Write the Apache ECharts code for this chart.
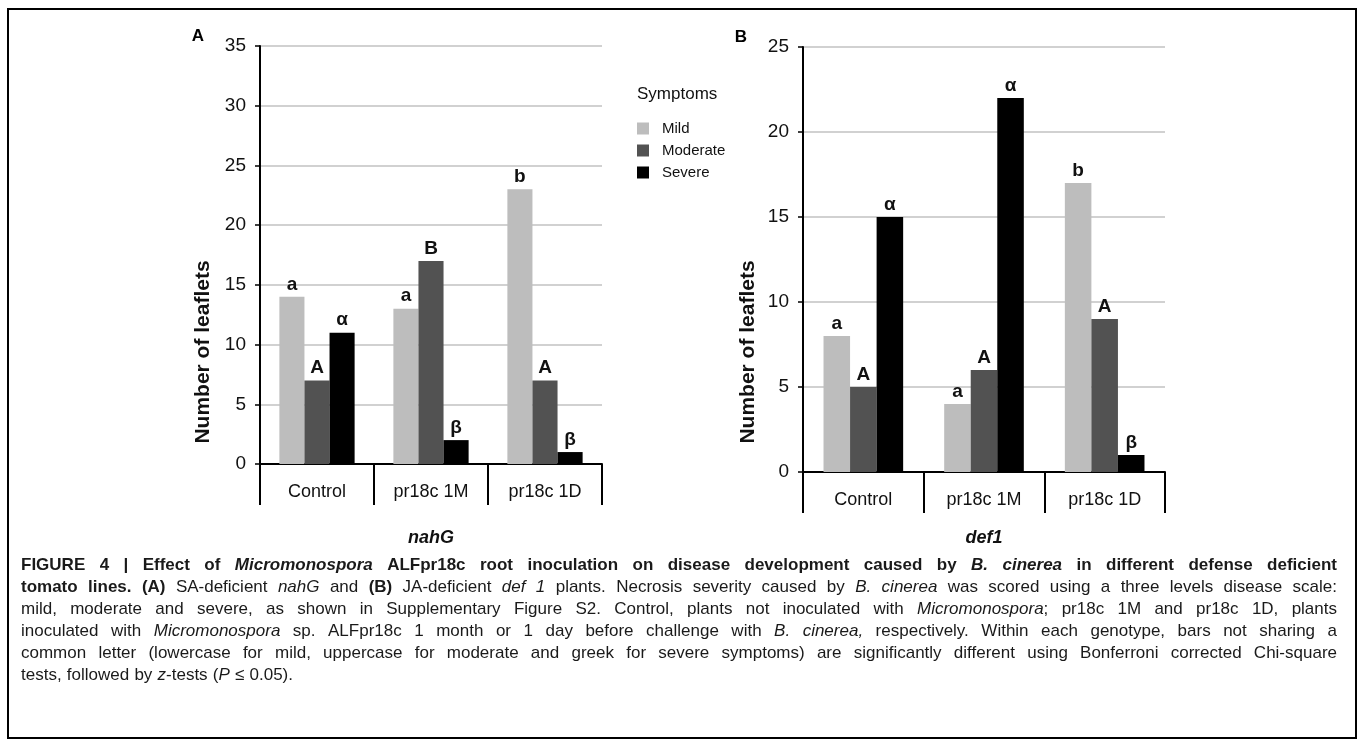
<!DOCTYPE html>
<html><head><meta charset="utf-8">
<script src="https://cdn.jsdelivr.net/npm/echarts@6/dist/echarts.min.js"></script>
<style>html,body{margin:0;padding:0;background:#fff}#c{width:1358px;height:742px}</style>
</head><body><div id="c"></div><script>
// ---------- data ----------
const categories = ['Control', 'pr18c 1M', 'pr18c 1D'];
const seriesNames = ['Mild', 'Moderate', 'Severe'];
const nahG_mild = [14, 13, 23];
const nahG_moderate = [7, 17, 7];
const nahG_severe = [11, 2, 1];
const def1_mild = [8, 4, 17];
const def1_moderate = [5, 6, 9];
const def1_severe = [15, 22, 1];
const nahG_letters_mild = ['a', 'a', 'b'];
const nahG_letters_moderate = ['A', 'B', 'A'];
const nahG_letters_severe = ['α', 'β', 'β'];
const def1_letters_mild = ['a', 'a', 'b'];
const def1_letters_moderate = ['A', 'A', 'A'];
const def1_letters_severe = ['α', 'α', 'β'];
const genotypes = ['nahG', 'def1'];
const yMaxA = 35, yMaxB = 25, yStep = 5;

const F = "'Liberation Sans', Arial, Helvetica, sans-serif";
const colors = ['#bdbdbd', '#525252', '#000000'];

function barSeries(name, data, letters, color, gi) {
  return {
    type: 'bar', name: name, xAxisIndex: gi, yAxisIndex: gi, data: data,
    barGap: '0%', barCategoryGap: '34%',
    itemStyle: { color: color },
    label: { show: true, position: 'top', distance: 3,
      formatter: function (p) { return letters[p.dataIndex]; },
      fontSize: 19, fontWeight: 'bold', color: '#111', fontFamily: F },
    emphasis: { disabled: true }
  };
}
function yAxis(gi, max) {
  return { type: 'value', gridIndex: gi, min: 0, max: max, interval: yStep,
    axisLine: { show: true, lineStyle: { color: '#000', width: 2 } },
    axisTick: { show: true, length: 5, lineStyle: { color: '#000', width: 1.5 } },
    axisLabel: { fontSize: 19, color: '#111', margin: 14, fontFamily: F },
    splitLine: { show: true, lineStyle: { color: '#c2c2c2', width: 1.5 } } };
}
function xAxis(gi, name, gap) {
  return { type: 'category', gridIndex: gi, data: categories,
    axisLine: { lineStyle: { color: '#000', width: 2 } },
    axisTick: { show: true, length: 41, lineStyle: { color: '#000', width: 2 } },
    axisLabel: { fontSize: 18, color: '#111', margin: 19, fontFamily: F },
    name: name, nameLocation: 'middle', nameGap: gap,
    nameTextStyle: { fontSize: 18, fontWeight: 'bold', fontStyle: 'italic', color: '#111', fontFamily: F } };
}

// ---------- caption (justified, word by word) ----------
const captionLines = [
  [['b', 'FIGURE 4 | Effect of '], ['bi', 'Micromonospora'], ['b', ' ALFpr18c root inoculation on disease development caused by '], ['bi', 'B. cinerea'], ['b', ' in different defense deficient']],
  [['b', 'tomato lines. (A)'], ['r', ' SA-deficient '], ['i', 'nahG'], ['r', ' and '], ['b', '(B)'], ['r', ' JA-deficient '], ['i', 'def 1'], ['r', ' plants. Necrosis severity caused by '], ['i', 'B. cinerea'], ['r', ' was scored using a three levels disease scale:']],
  [['r', 'mild, moderate and severe, as shown in Supplementary Figure S2. Control, plants not inoculated with '], ['i', 'Micromonospora'], ['r', '; pr18c 1M and pr18c 1D, plants']],
  [['r', 'inoculated with '], ['i', 'Micromonospora'], ['r', ' sp. ALFpr18c 1 month or 1 day before challenge with '], ['i', 'B. cinerea,'], ['r', ' respectively. Within each genotype, bars not sharing a']],
  [['r', 'common letter (lowercase for mild, uppercase for moderate and greek for severe symptoms) are significantly different using Bonferroni corrected Chi-square']],
  [['r', 'tests, followed by '], ['i', 'z'], ['r', '-tests ('], ['i', 'P'], ['r', ' ≤ 0.05).']]
];
const capSize = 17;
const capStyles = {
  r: { fontWeight: 'normal', fontStyle: 'normal' },
  b: { fontWeight: 'bold', fontStyle: 'normal' },
  i: { fontWeight: 'normal', fontStyle: 'italic' },
  bi: { fontWeight: 'bold', fontStyle: 'italic' }
};
const rich = {};
Object.keys(capStyles).forEach(function (k) {
  rich[k] = { fontSize: capSize, fontFamily: F, fontWeight: capStyles[k].fontWeight,
    fontStyle: capStyles[k].fontStyle, fill: '#1a1a1a', color: '#1a1a1a' };
});
const ctx = document.createElement('canvas').getContext('2d');
function measure(k, t) {
  ctx.font = capStyles[k].fontStyle + ' ' + capStyles[k].fontWeight + ' ' + capSize + 'px ' + F;
  return ctx.measureText(t).width;
}
const capLeft = 21, capRight = 1337, capTop = 565, capStep = 22;
const captionGraphics = [];
captionLines.forEach(function (line, li) {
  const words = [];
  let cur = [];
  line.forEach(function (seg) {
    const parts = seg[1].split(' ');
    parts.forEach(function (p, pi) {
      if (pi > 0) { if (cur.length) words.push(cur); cur = []; }
      if (p.length) cur.push([seg[0], p]);
    });
  });
  if (cur.length) words.push(cur);
  const widths = words.map(function (w) { return w.reduce(function (s, p) { return s + measure(p[0], p[1]); }, 0); });
  const total = widths.reduce(function (a, b) { return a + b; }, 0);
  const last = li === captionLines.length - 1;
  const gap = last ? measure('r', ' ') * 1.1 : (capRight - capLeft - total) / (words.length - 1);
  let x = capLeft;
  words.forEach(function (w, wi) {
    captionGraphics.push({ type: 'text', x: x, y: capTop + li * capStep, silent: true,
      style: { text: w.map(function (p) { return '{' + p[0] + '|' + p[1] + '}'; }).join(''),
        rich: rich, fontSize: capSize, fontFamily: F, fill: '#1a1a1a', verticalAlign: 'middle', align: 'left' } });
    x += widths[wi] + gap;
  });
});

const option = {
  animation: false,
  backgroundColor: '#fff',
  textStyle: { fontFamily: F },
  grid: [
    { left: 260, top: 46, width: 342, height: 418, outerBoundsMode: 'none' },
    { left: 803, top: 47, width: 362, height: 425, outerBoundsMode: 'none' }
  ],
  xAxis: [xAxis(0, genotypes[0], 65), xAxis(1, genotypes[1], 57)],
  yAxis: [yAxis(0, yMaxA), yAxis(1, yMaxB)],
  legend: { orient: 'vertical', left: 637, top: 121, padding: 0, itemWidth: 12, itemHeight: 12, itemGap: 7,
    icon: 'rect', data: seriesNames, selectedMode: false,
    textStyle: { fontSize: 15, color: '#111', fontFamily: F, padding: [0, 0, 0, 8] } },
  series: [
    barSeries(seriesNames[0], nahG_mild, nahG_letters_mild, colors[0], 0),
    barSeries(seriesNames[1], nahG_moderate, nahG_letters_moderate, colors[1], 0),
    barSeries(seriesNames[2], nahG_severe, nahG_letters_severe, colors[2], 0),
    barSeries(seriesNames[0], def1_mild, def1_letters_mild, colors[0], 1),
    barSeries(seriesNames[1], def1_moderate, def1_letters_moderate, colors[1], 1),
    barSeries(seriesNames[2], def1_severe, def1_letters_severe, colors[2], 1)
  ],
  graphic: [
    { type: 'rect', silent: true, shape: { x: 8, y: 9, width: 1348, height: 729 },
      style: { fill: 'none', stroke: '#000', lineWidth: 2 } },
    { type: 'text', x: 198, y: 36, silent: true, style: { text: 'A', fontSize: 17, fontWeight: 'bold', fontFamily: F, fill: '#000', align: 'center', verticalAlign: 'middle' } },
    { type: 'text', x: 741, y: 37, silent: true, style: { text: 'B', fontSize: 17, fontWeight: 'bold', fontFamily: F, fill: '#000', align: 'center', verticalAlign: 'middle' } },
    { type: 'text', x: 203, y: 352, rotation: Math.PI / 2, silent: true, style: { text: 'Number of leaflets', fontSize: 21, fontWeight: 'bold', fontFamily: F, fill: '#111', align: 'center', verticalAlign: 'middle' } },
    { type: 'text', x: 748, y: 352, rotation: Math.PI / 2, silent: true, style: { text: 'Number of leaflets', fontSize: 21, fontWeight: 'bold', fontFamily: F, fill: '#111', align: 'center', verticalAlign: 'middle' } },
    { type: 'text', x: 637, y: 94, silent: true, style: { text: 'Symptoms', fontSize: 17, fontFamily: F, fill: '#111', align: 'left', verticalAlign: 'middle' } }
  ].concat(captionGraphics)
};
const chart = echarts.init(document.getElementById('c'), null, { renderer: 'canvas' });
chart.setOption(option);
</script></body></html>
